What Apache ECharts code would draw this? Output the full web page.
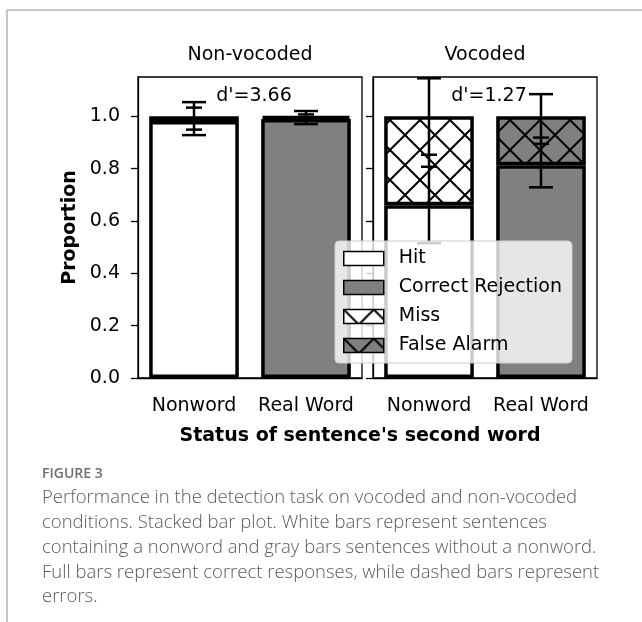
<!DOCTYPE html>
<html>
<head>
<meta charset="utf-8">
<script src="https://cdn.jsdelivr.net/npm/echarts@6/dist/echarts.min.js"></script>
<style>
html,body{margin:0;padding:0;background:#fff;}
#chart{width:642px;height:622px;}
</style>
</head>
<body>
<div id="chart"></div>
<script>
// ---- data ----
const groups = ['Non-vocoded', 'Vocoded'];
const categories = ['Nonword', 'Real Word'];
const hit = [0.982, 0.66];
const miss = [0.018, 0.34];
const correctRejection = [0.99, 0.813];
const falseAlarm = [0.01, 0.187];
const errLargeNonword = [0.063, 0.315];
const errSmallNonword = [0.042, 0.023];
const errLargeRealWord = [0.025, 0.178];
const errSmallRealWord = [0.012, 0.012];
const dPrime = ['3.66', '1.27'];
const yTicks = [0, 0.2, 0.4, 0.6, 0.8, 1.0];
const captionTitle = 'FIGURE 3';
const captionLines = [
  'Performance in the detection task on vocoded and non-vocoded',
  'conditions. Stacked bar plot. White bars represent sentences',
  'containing a nonword and gray bars sentences without a nonword.',
  'Full bars represent correct responses, while dashed bars represent',
  'errors.'
];

// ---- styles ----
const FONT = 'DejaVu Sans';
const GRAY = '#808080';
function hatch(bg) {
  const P = 30;
  const c = document.createElement('canvas');
  c.width = P; c.height = P;
  const g = c.getContext('2d');
  g.fillStyle = bg; g.fillRect(0, 0, P, P);
  g.strokeStyle = '#000'; g.lineWidth = 2;
  g.beginPath();
  for (const dx of [-P, 0, P]) {
    g.moveTo(dx, 0); g.lineTo(dx + P, P);
    g.moveTo(dx + P, 0); g.lineTo(dx, P);
  }
  g.stroke();
  return {image: c, repeat: 'repeat'};
}
const fills = {
  'Hit': '#ffffff',
  'Correct Rejection': GRAY,
  'Miss': hatch('#ffffff'),
  'False Alarm': hatch(GRAY)
};

const grids = [
  {left: 138, right: 280, top: 77, bottom: 244},
  {left: 373, right: 45, top: 77, bottom: 244}
].map(g => Object.assign(g, {show: true, borderColor: '#000', borderWidth: 1.3, backgroundColor: 'transparent'}));

const xAxes = groups.map((_, gi) => ({
  type: 'category', gridIndex: gi, data: categories,
  axisLine: {lineStyle: {color: '#000', width: 1.3}},
  axisTick: {alignWithLabel: true, length: 7, lineStyle: {color: '#000', width: 1.3}},
  axisLabel: {color: '#000', fontSize: 19, fontFamily: FONT, margin: 19, interval: 0, hideOverlap: false}
}));
const yAxes = groups.map((_, gi) => ({
  type: 'value', gridIndex: gi, min: 0, max: 1.15, interval: 0.2,
  splitLine: {show: false},
  axisLine: {show: true, lineStyle: {color: '#000', width: 1.3}},
  axisTick: {show: true, length: 7, customValues: yTicks, lineStyle: {color: '#000', width: 1.3}},
  axisLabel: {show: gi === 0, customValues: yTicks, color: '#000', fontSize: 19, fontFamily: FONT, margin: 18,
    formatter: v => Number(v).toFixed(1)},
  name: gi === 0 ? 'Proportion' : '',
  nameLocation: 'middle', nameGap: 58, nameRotate: 90,
  nameTextStyle: {fontWeight: 'bold', fontSize: 19, fontFamily: FONT, color: '#000'}
}));

const series = [];
groups.forEach((_, gi) => {
  const segs = [
    ['Hit', [hit[gi], '-']],
    ['Correct Rejection', ['-', correctRejection[gi]]],
    ['Miss', [miss[gi], '-']],
    ['False Alarm', ['-', falseAlarm[gi]]]
  ];
  segs.forEach(([name, data]) => {
    series.push({
      type: 'bar', name, xAxisIndex: gi, yAxisIndex: gi, stack: 'st' + gi,
      data, barWidth: '80%',
      itemStyle: {color: fills[name], borderColor: '#000', borderWidth: 3.5},
      emphasis: {disabled: true}
    });
  });
  // error bars, centred on the middle of the upper (error) segment
  const errData = [
    [0, hit[gi] + miss[gi] / 2, errLargeNonword[gi], errSmallNonword[gi]],
    [1, correctRejection[gi] + falseAlarm[gi] / 2, errLargeRealWord[gi], errSmallRealWord[gi]]
  ];
  series.push({
    type: 'custom', xAxisIndex: gi, yAxisIndex: gi, z: 3, clip: true,
    data: errData, silent: true,
    renderItem: (params, api) => {
      const x = api.value(0), c = api.value(1), L = api.value(2), S = api.value(3);
      const t = api.coord([x, c + L]), b = api.coord([x, c - L]);
      const st = api.coord([x, c + S]), sb = api.coord([x, c - S]);
      const cx = t[0];
      const style = {stroke: '#000', lineWidth: 2.5};
      const line = (x1, y1, x2, y2) => ({type: 'line', shape: {x1, y1, x2, y2}, style});
      return {type: 'group', children: [
        line(cx, t[1], cx, b[1]),
        line(cx - 12, t[1], cx + 12, t[1]),
        line(cx - 12, b[1], cx + 12, b[1]),
        line(cx - 8, st[1], cx + 8, st[1]),
        line(cx - 8, sb[1], cx + 8, sb[1])
      ]};
    }
  });
  // d' annotation
  series.push({
    type: 'custom', xAxisIndex: gi, yAxisIndex: gi, z: 3, silent: true,
    data: [[0, 1.076]],
    renderItem: (params, api) => {
      const cs = params.coordSys;
      const p = api.coord([0, api.value(1)]);
      return {type: 'text', x: cs.x + cs.width / 2 + 4, y: p[1],
        style: {text: "d'=" + dPrime[gi], fontSize: 19, fontFamily: FONT, fill: '#000', align: 'center', verticalAlign: 'middle'}};
    }
  });
});

const graphic = [
  {type: 'line', shape: {x1: 7, y1: 10, x2: 642, y2: 10}, style: {stroke: '#b3b3b3', lineWidth: 1.5}},
  {type: 'line', shape: {x1: 7, y1: 10, x2: 7, y2: 622}, style: {stroke: '#b3b3b3', lineWidth: 1.5}},
  {type: 'text', x: 250, y: 55, style: {text: groups[0], fontSize: 19, fontFamily: FONT, fill: '#000', align: 'center', verticalAlign: 'middle'}},
  {type: 'text', x: 485, y: 55, style: {text: groups[1], fontSize: 19, fontFamily: FONT, fill: '#000', align: 'center', verticalAlign: 'middle'}},
  {type: 'text', x: 360, y: 436, style: {text: "Status of sentence's second word", fontSize: 19, fontWeight: 'bold', fontFamily: FONT, fill: '#000', align: 'center', verticalAlign: 'middle'}},
  {type: 'text', x: 42, y: 474, style: {text: captionTitle, fontSize: 14, fontWeight: 600, fontFamily: 'Open Sans', fill: '#6e6e6e', align: 'left', verticalAlign: 'middle'}}
];
const capY = [498, 523, 548, 573, 597];
captionLines.forEach((t, i) => graphic.push({
  type: 'text', x: 42, y: capY[i],
  style: {text: t, fontSize: 18.5, fontWeight: 300, fontFamily: 'Open Sans', fill: '#5a5a5a', align: 'left', verticalAlign: 'middle'}
}));

const option = {
  animation: false,
  textStyle: {fontFamily: FONT},
  grid: grids,
  xAxis: xAxes,
  yAxis: yAxes,
  legend: {
    data: ['Hit', 'Correct Rejection', 'Miss', 'False Alarm'],
    orient: 'vertical', left: 335, top: 241,
    itemWidth: 40, itemHeight: 14, itemGap: 10,
    padding: [8, 10, 8, 8],
    backgroundColor: 'rgba(255,255,255,0.8)', borderColor: '#cccccc', borderWidth: 1, borderRadius: 4,
    icon: 'rect', selectedMode: false,
    itemStyle: {borderColor: '#000', borderWidth: 1.5},
    textStyle: {fontSize: 19, color: '#000', fontFamily: FONT, padding: [0, 0, 0, 10]}
  },
  graphic,
  series
};
const chart = echarts.init(document.getElementById('chart'));
chart.setOption(option);
</script>
</body>
</html>
